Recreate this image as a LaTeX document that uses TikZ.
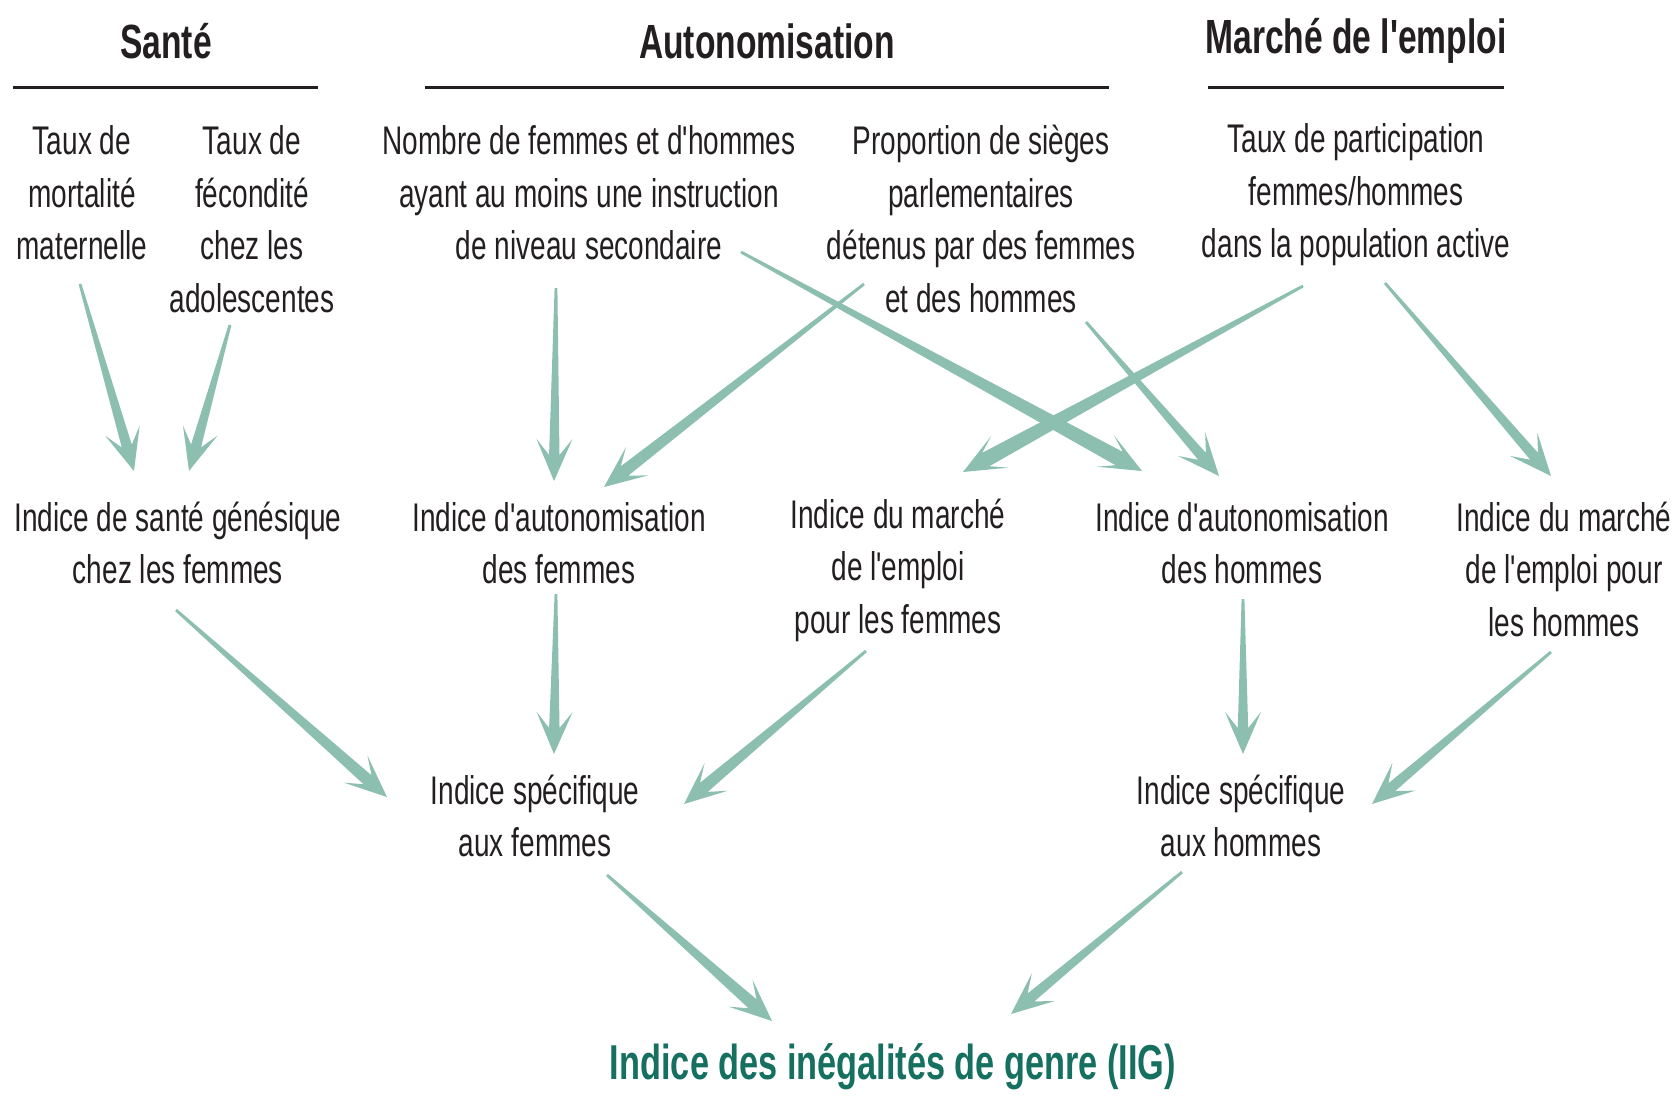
\documentclass[tikz,border=0pt]{standalone}
\usepackage{fontspec}
\setmainfont{Liberation Sans}[FakeStretch=0.70, Ligatures=TeXOff]
\usetikzlibrary{calc}
\definecolor{arrowc}{HTML}{8CBFB0}
\definecolor{textc}{HTML}{231F20}
\definecolor{iigc}{HTML}{15705F}
\newcommand{\tarr}[5]{%
  \coordinate (tS) at ($(#2)+(#3)$);
  \coordinate (tE) at ($(#4)+(#5)$);
  \fill[arrowc] ($(tS)!0.7pt!-90:(tE)$)
    -- ($(tE)!13pt!(tS)!#1!90:(tS)$)
    -- ($(tE)!21pt!(tS)!9pt!90:(tS)$)
    -- (tE)
    -- ($(tE)!21pt!(tS)!9pt!-90:(tS)$)
    -- ($(tE)!13pt!(tS)!#1!-90:(tS)$)
    -- ($(tS)!0.7pt!90:(tE)$) -- cycle;
}
\tikzset{
  txt/.style={align=center, text=textc, inner sep=0pt, font=\fontsize{20}{26.25}\selectfont},
  hdr/.style={align=center, text=textc, inner sep=0pt, font=\fontsize{24}{28}\selectfont\bfseries},
  iigst/.style={align=center, text=iigc, inner sep=0pt, font=\fontsize{24.5}{28}\selectfont\bfseries},
  rulest/.style={draw=textc, line width=1.5pt}
}
\begin{document}
\begin{tikzpicture}[x=0.5pt,y=-0.5pt]
\useasboundingbox (0,0) rectangle (1677,1098);
% headers
\node[hdr] (hs) at (166,41) {Santé};
\node[hdr] (ha) at (767,41) {Autonomisation};
\node[hdr] (hm) at (1356,41) {Marché de l'emploi};
\draw[rulest] (13,87) -- (318,87);
\draw[rulest] (425,87) -- (1109,87);
\draw[rulest] (1208,87) -- (1504,87);
% row 1
\node[txt] (mort) at (82,193) {Taux de\\mortalité\\maternelle};
\node[txt] (fec) at (252,219) {Taux de\\fécondité\\chez les\\adolescentes};
\node[txt] (nomb) at (589,193) {Nombre de femmes et d'hommes\\ayant au moins une instruction\\de niveau secondaire};
\node[txt] (prop) at (981,219) {Proportion de sièges\\parlementaires\\détenus par des femmes\\et des hommes};
\node[txt] (taux) at (1356,195) {Taux de participation\\femmes/hommes\\dans la population active};
% row 2
\node[txt] (sante) at (178,543) {Indice de santé génésique\\chez les femmes};
\node[txt] (autf) at (559,543) {Indice d'autonomisation\\des femmes};
\node[txt] (marf) at (898,570) {Indice du marché\\de l'emploi\\pour les femmes};
\node[txt] (auth) at (1242,543) {Indice d'autonomisation\\des hommes};
\node[txt] (marh) at (1564,569) {Indice du marché\\de l'emploi pour\\les hommes};
% row 3
\node[txt] (specf) at (535,816) {Indice spécifique\\aux femmes};
\node[txt] (spech) at (1241,816) {Indice spécifique\\aux hommes};
% final
\node[iigst] (iig) at (893,1067) {Indice des inégalités de genre (IIG)};
% arrows
\tarr{2.6pt}{mort}{-2,91}{sante}{-44,-72}
\tarr{2.6pt}{fec}{-22,106}{sante}{11,-72}
\tarr{2.6pt}{nomb}{-33,95}{autf}{-5,-62}
\tarr{3pt}{prop}{-117,65}{autf}{45,-56}
\tarr{3.8pt}{nomb}{152,59}{auth}{-100,-72}
\tarr{2.6pt}{prop}{105,103}{auth}{-23,-67}
\tarr{3.8pt}{taux}{-53,91}{marf}{65,-98}
\tarr{2.6pt}{taux}{29,88}{marh}{-13,-93}
\tarr{3pt}{sante}{-2,67}{specf}{-148,-19}
\tarr{2.6pt}{autf}{-3,51}{specf}{19,-62}
\tarr{3pt}{marf}{-32,81}{specf}{149,-12}
\tarr{2.6pt}{auth}{1,56}{spech}{2,-62}
\tarr{2.6pt}{marh}{-13,83}{spech}{131,-12}
\tarr{3pt}{specf}{72,59}{iig}{-121,-46}
\tarr{2.6pt}{spech}{-59,56}{iig}{118,-53}
\end{tikzpicture}
\end{document}
